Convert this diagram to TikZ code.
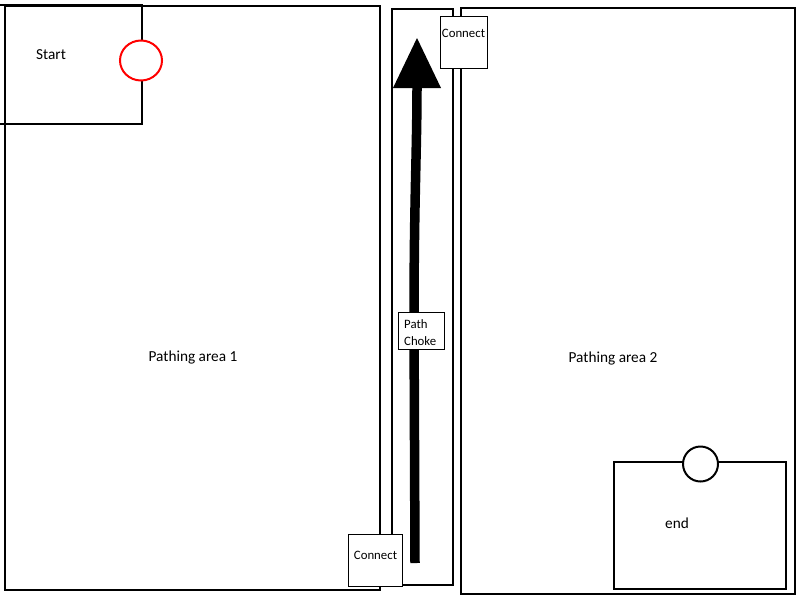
\documentclass[tikz,border=0pt]{standalone}
\usepackage{fontspec}
\setmainfont{Carlito}
\begin{document}
\begin{tikzpicture}[x=1pt,y=-1pt,
  area/.style={draw=black,line width=2pt},
  box/.style={draw=black,line width=1pt,fill=white},
  lbl/.style={font=\fontsize{15.3}{18}\selectfont,inner sep=0pt},
  small/.style={font=\fontsize{12.8}{17}\selectfont,inner sep=0pt},
  port/.style={draw,line width=2pt,fill=white,ellipse,inner sep=0pt}]
\useasboundingbox (0,0) rectangle (800,600);
% areas
\draw[area] (5,6) rectangle (380,590);
\draw[area] (392,9) rectangle (453,585);
\draw[area] (461,8) rectangle (795,594);
% start box
\draw[area] (-2,5) rectangle (142,124);
\fill[white,draw=red,line width=2pt] (141,60.5) ellipse (21 and 20);
\node[lbl] (start) at (51,55) {Start};
% end box
\draw[area] (614,462) rectangle (786,589);
\fill[white,draw=black,line width=2pt] (700.5,464) ellipse (17.5 and 17.5);
\node[lbl] (endl) at (677,523) {end};
% area labels
\node[lbl] (p1) at (193,357) {Pathing area 1};
\node[lbl] (p2) at (613,358) {Pathing area 2};
% arrow
\coordinate (a0) at (415,563);
\coordinate (a1) at (414,320);
\coordinate (a2) at (417,86);
\draw[line width=9.5pt] (a0) -- (a1) .. controls (414,200) and (417,150) .. (a2);
\fill (417,38) -- (441,88) -- (393,88) -- cycle;
% connect boxes
\draw[box] (440,16) rectangle (487,68);
\node[small] (c1) at (463.5,33) {Connect};
\draw[box] (348,534) rectangle (402,586);
\node[small] (c2) at (375.5,555) {Connect};
% path choke
\draw[box] (398,312) rectangle (444,349);
\node[small,align=left,anchor=north west] (pc) at (404,319.5) {Path\\Choke};
\end{tikzpicture}
\end{document}
